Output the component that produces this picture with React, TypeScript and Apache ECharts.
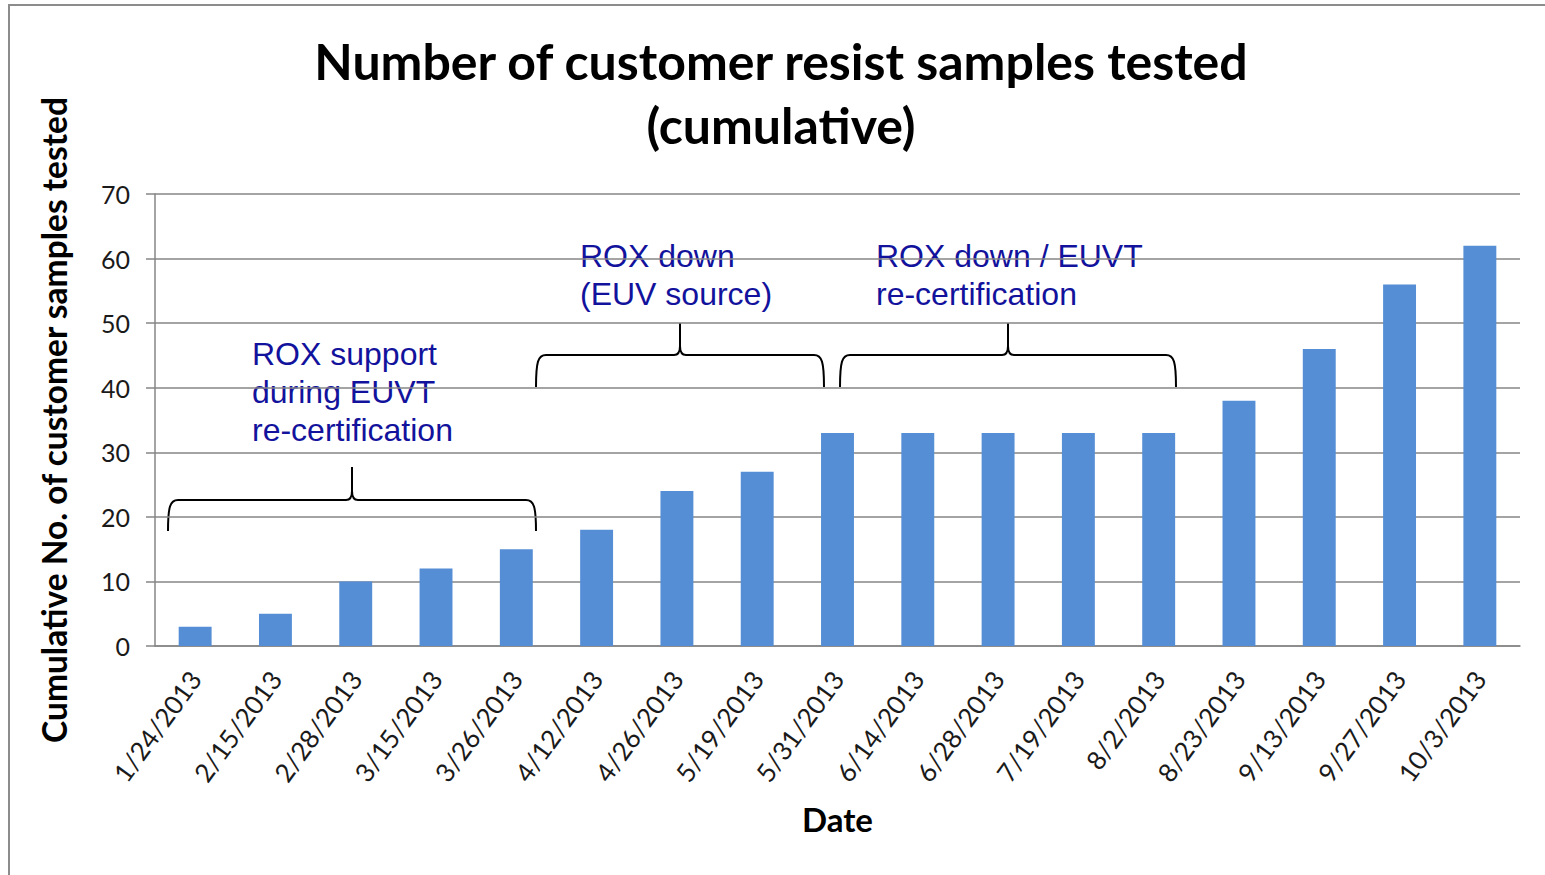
import React, { useEffect, useRef } from "react";
import * as echarts from "echarts";

const categories = [
  "1/24/2013", "2/15/2013", "2/28/2013", "3/15/2013", "3/26/2013", "4/12/2013",
  "4/26/2013", "5/19/2013", "5/31/2013", "6/14/2013", "6/28/2013", "7/19/2013",
  "8/2/2013", "8/23/2013", "9/13/2013", "9/27/2013", "10/3/2013",
];
const samplesTested = [3, 5, 10, 12, 15, 18, 24, 27, 33, 33, 33, 33, 33, 38, 46, 56, 62];
const yTicks = { min: 0, max: 70, interval: 10 };

const titleText = "Number of customer resist samples tested\n(cumulative)";
const yAxisTitle = "Cumulative No. of customer samples tested";
const xAxisTitle = "Date";

const annotationTexts = [
  "ROX support\nduring EUVT\nre-certification",
  "ROX down\n(EUV source)",
  "ROX down / EUVT\nre-certification",
];

function braceD(L: number, R: number, C: number, H: number, bottom: number, tip: number) {
  return [
    `M ${L} ${bottom}`,
    `C ${L} ${H + 7} ${L + 2} ${H} ${L + 10} ${H}`,
    `L ${C - 6} ${H}`,
    `Q ${C} ${H} ${C} ${H - 9}`,
    `L ${C} ${tip}`,
    `M ${C} ${H - 9}`,
    `Q ${C} ${H} ${C + 6} ${H}`,
    `L ${R - 10} ${H}`,
    `C ${R - 2} ${H} ${R} ${H + 7} ${R} ${bottom}`,
  ].join(" ");
}

export default function App() {
  const ref = useRef<HTMLDivElement>(null);
  useEffect(() => {
    if (!ref.current) return;
    const chart = echarts.init(ref.current, null, { renderer: "svg" });

    const braces = [
      { L: 168, R: 536, C: 352, H: 500, bottom: 531, tip: 467 },
      { L: 536, R: 824, C: 680, H: 355, bottom: 387, tip: 323 },
      { L: 840, R: 1176, C: 1008, H: 355, bottom: 387, tip: 323 },
    ];
    braces.forEach((b, i) => {
      echarts.graphic.registerShape(
        "brace" + i,
        echarts.graphic.extendPath(braceD(b.L, b.R, b.C, b.H, b.bottom, b.tip), {}) as any
      );
    });
    const textPos = [
      { x: 252, y: 335 },
      { x: 580, y: 237 },
      { x: 876, y: 237 },
    ];

    chart.setOption({
      animation: false,
      backgroundColor: "#ffffff",
      title: {
        text: titleText,
        left: 776,
        top: 24,
        textAlign: "center",
        textStyle: {
          fontFamily: "Lato",
          fontWeight: "bold",
          fontSize: 50,
          lineHeight: 64,
          color: "#000000",
        },
      },
      grid: { left: 155, right: 25, top: 194, bottom: 229, containLabel: false },
      xAxis: {
        type: "category",
        data: categories,
        name: xAxisTitle,
        nameLocation: "middle",
        nameGap: 156,
        nameTextStyle: { fontFamily: "Lato", fontWeight: "bold", fontSize: 33, color: "#000" },
        axisLine: { show: true, lineStyle: { color: "#868686", width: 1.5 } },
        axisTick: { show: false },
        axisLabel: {
          rotate: 54,
          interval: 0,
          margin: 28,
          fontFamily: "Lato",
          fontSize: 26,
          color: "#1a1a1a",
        },
      },
      yAxis: {
        type: "value",
        min: yTicks.min,
        max: yTicks.max,
        interval: yTicks.interval,
        name: yAxisTitle,
        nameLocation: "middle",
        nameGap: 84,
        nameTextStyle: { fontFamily: "Lato", fontWeight: "bold", fontSize: 33.5, color: "#000" },
        axisLine: { show: true, lineStyle: { color: "#868686", width: 1.5 } },
        axisTick: { show: true, length: 9, lineStyle: { color: "#868686", width: 1.5 } },
        splitLine: { show: true, lineStyle: { color: "#868686", width: 1.5 } },
        axisLabel: { margin: 25, fontFamily: "Lato", fontSize: 25, color: "#1a1a1a" },
      },
      series: [
        {
          type: "bar",
          data: samplesTested,
          barWidth: "41%",
          itemStyle: { color: "#558ed5" },
        },
      ],
      graphic: [
        {
          type: "rect",
          shape: { x: 9, y: 5, width: 1700, height: 1000 },
          style: { fill: "none", stroke: "#8c8c8c", lineWidth: 2 },
          silent: true,
        },
        ...braces.map((_, i) => ({
          type: "brace" + i,
          style: { fill: "none", stroke: "#000000", lineWidth: 2 },
          silent: true,
        })),
        ...annotationTexts.map((t, i) => ({
          type: "text",
          x: textPos[i].x,
          y: textPos[i].y,
          style: {
            text: t,
            fill: "#12129c",
            font: "32px 'Liberation Sans', Arial, sans-serif",
            lineHeight: 38,
            verticalAlign: "top",
            align: "left",
          },
          silent: true,
        })),
      ],
    });
    return () => chart.dispose();
  }, []);
  return (
    <div
      ref={ref}
      style={{ position: "fixed", left: 0, top: 0, width: 1545, height: 875 }}
    />
  );
}
